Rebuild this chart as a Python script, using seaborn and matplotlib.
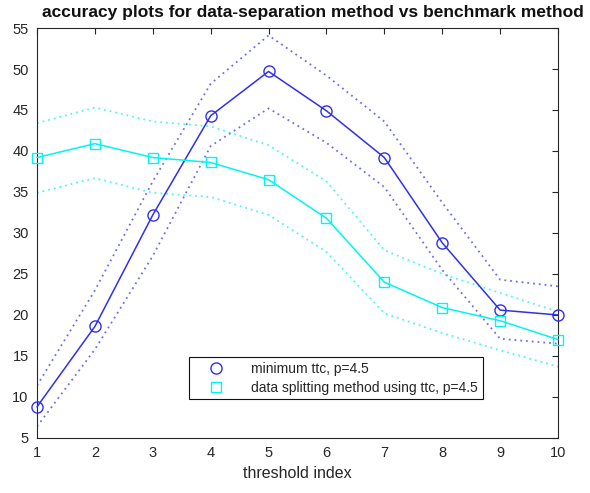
import matplotlib
matplotlib.use("Agg")
import matplotlib.pyplot as plt
import seaborn as sns
import pandas as pd
from matplotlib.lines import Line2D

# threshold index on the x axis
thresholds = [1, 2, 3, 4, 5, 6, 7, 8, 9, 10]

# benchmark: minimum ttc, p=4.5 (mean and band limits)
min_ttc_mean = [8.8, 18.6, 32.2, 44.3, 49.7, 44.9, 39.2, 28.8, 20.6, 20.0]
min_ttc_upper = [11.4, 23.0, 36.3, 48.2, 54.1, 49.2, 43.6, 33.7, 24.3, 23.5]
min_ttc_lower = [6.4, 15.8, 27.2, 40.6, 45.2, 41.0, 35.6, 25.5, 17.1, 16.5]

# data splitting method using ttc, p=4.5 (mean and band limits)
split_mean = [39.2, 40.9, 39.2, 38.6, 36.5, 31.8, 24.0, 20.9, 19.3, 17.0]
split_upper = [43.4, 45.3, 43.6, 43.0, 40.7, 36.3, 27.9, 25.0, 22.7, 20.4]
split_lower = [34.9, 36.7, 34.9, 34.4, 32.2, 27.7, 20.2, 17.8, 15.7, 13.7]

labels = ["minimum ttc, p=4.5", "data splitting method using ttc, p=4.5"]

sns.set_style("white")
plt.rcParams["font.family"] = ["Liberation Sans", "DejaVu Sans"]

BLUE = "#2f2fee"
CYAN = "#00f5f5"
TXT = "#262626"

fig = plt.figure(figsize=(5.9, 4.93), dpi=100)
ax = fig.add_axes([0.0627, 0.1116, 0.8831, 0.8316])

df = pd.DataFrame({
    "x": thresholds,
    "bm": min_ttc_mean, "bu": min_ttc_upper, "bl": min_ttc_lower,
    "cm": split_mean, "cu": split_upper, "cl": split_lower,
})

# dotted band limits
for col, c in [("bu", BLUE), ("bl", BLUE), ("cu", CYAN), ("cl", CYAN)]:
    sns.lineplot(data=df, x="x", y=col, ax=ax, color=c, lw=1.3,
                 linestyle=(0, (1, 2.2)), alpha=0.7)

# mean curves with markers (markers at the edges stay unclipped)
sns.lineplot(data=df, x="x", y="bm", ax=ax, color=BLUE, lw=1.1, marker="o",
             markersize=8, markerfacecolor="none", markeredgecolor=BLUE,
             markeredgewidth=1.0, clip_on=False, zorder=5)
sns.lineplot(data=df, x="x", y="cm", ax=ax, color=CYAN, lw=1.1, marker="s",
             markersize=6.5, markerfacecolor="none", markeredgecolor=CYAN,
             markeredgewidth=1.0, clip_on=False, zorder=5)

ax.set_xlim(1, 10)
ax.set_ylim(5, 55)
ax.set_xticks(thresholds)
ax.set_yticks(range(5, 56, 5))
ax.tick_params(direction="in", length=4, width=0.8, colors=TXT,
               labelsize=10.5, top=True, right=True, labeltop=False,
               labelright=False, pad=6)
for s in ax.spines.values():
    s.set_color(TXT)
    s.set_linewidth(0.8)

ax.set_xlabel("threshold index", fontsize=11.5, color=TXT, labelpad=4)
ax.set_ylabel("")
ax.set_title("accuracy plots for data-separation method vs benchmark method",
             fontsize=12.5, fontweight="bold", color="#111111", pad=8,
             x=0.53)

handles = [
    Line2D([], [], linestyle="none", marker="o", markersize=8,
           markerfacecolor="none", markeredgecolor=BLUE, markeredgewidth=1.0),
    Line2D([], [], linestyle="none", marker="s", markersize=6.5,
           markerfacecolor="none", markeredgecolor=CYAN, markeredgewidth=1.0),
]
leg = ax.legend(handles, labels, loc="upper left",
                bbox_to_anchor=(0.292, 0.198), fontsize=10, frameon=True,
                fancybox=False, edgecolor="#111111", framealpha=1,
                borderpad=0.35, handletextpad=0.9, handlelength=3.2,
                labelspacing=0.35, borderaxespad=0)
leg.set_zorder(10)
leg.get_frame().set_linewidth(0.8)

fig.savefig("out.png", dpi=100)
